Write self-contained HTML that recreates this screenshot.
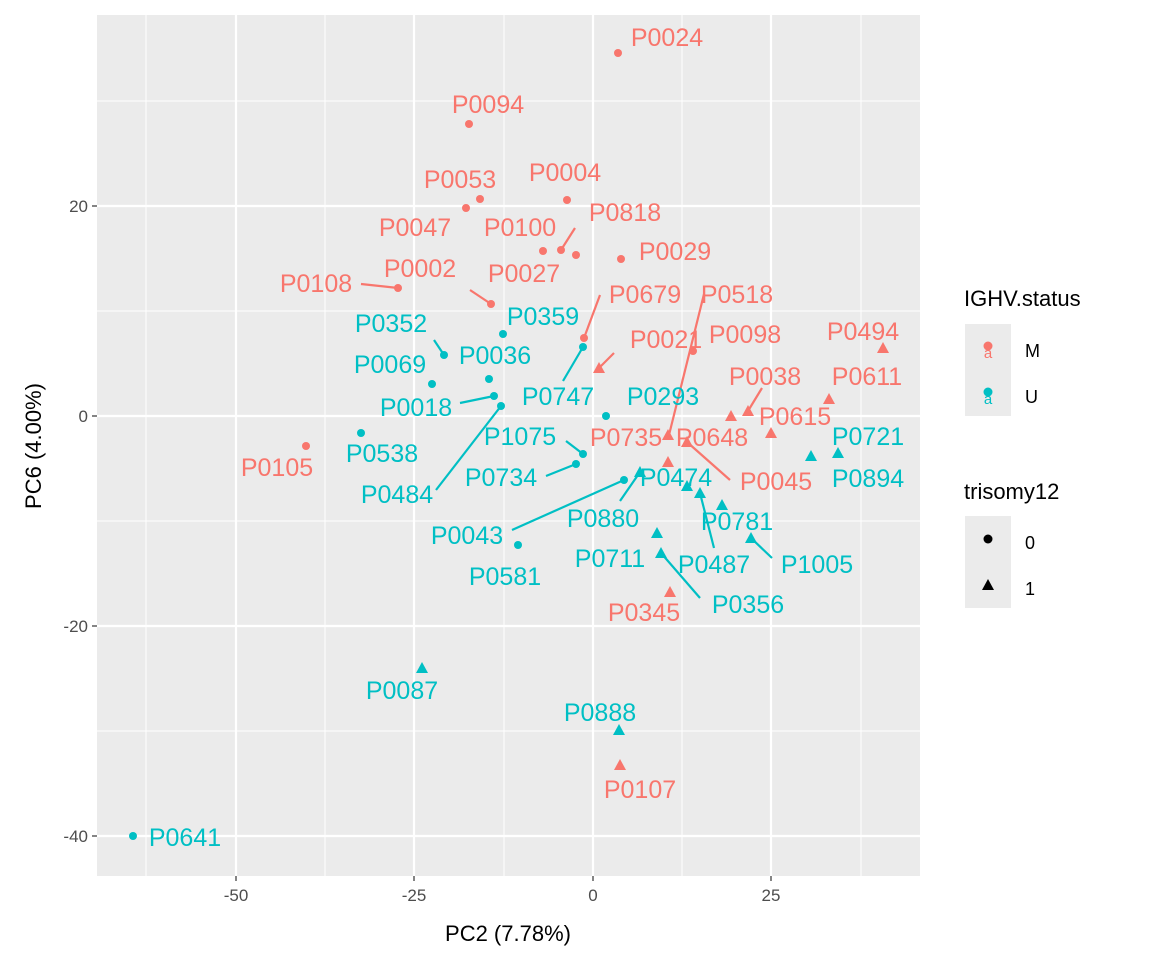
<!DOCTYPE html>
<html><head><meta charset="utf-8"><style>
body{margin:0;background:#fff}
svg{display:block;font-family:"Liberation Sans",sans-serif}
.r{fill:#F8766D}.t{fill:#00BFC4}
.lr{fill:#F8766D;font-size:25px;text-anchor:middle}
.lt{fill:#00BFC4;font-size:25px;text-anchor:middle}
.sr{stroke:#F8766D;stroke-width:2.2}.st{stroke:#00BFC4;stroke-width:2.2}
</style></head><body>
<svg width="1152" height="960" viewBox="0 0 1152 960">
<defs>
<symbol id="tri" viewBox="-6 -6 12 12" overflow="visible"><path d="M0,-6 L6,5 L-6,5Z"/></symbol>
</defs>
<rect x="97" y="15" width="823" height="861" fill="#EBEBEB"/>
<g stroke="#fff" stroke-width="1">
<line x1="146" y1="15" x2="146" y2="876"/><line x1="325" y1="15" x2="325" y2="876"/><line x1="504" y1="15" x2="504" y2="876"/><line x1="682" y1="15" x2="682" y2="876"/><line x1="861" y1="15" x2="861" y2="876"/>
<line x1="97" y1="101" x2="920" y2="101"/><line x1="97" y1="311" x2="920" y2="311"/><line x1="97" y1="521" x2="920" y2="521"/><line x1="97" y1="731" x2="920" y2="731"/>
</g>
<g stroke="#fff" stroke-width="2.2">
<line x1="236" y1="15" x2="236" y2="876"/><line x1="414" y1="15" x2="414" y2="876"/><line x1="593" y1="15" x2="593" y2="876"/><line x1="771" y1="15" x2="771" y2="876"/>
<line x1="97" y1="206" x2="920" y2="206"/><line x1="97" y1="416" x2="920" y2="416"/><line x1="97" y1="626" x2="920" y2="626"/><line x1="97" y1="836" x2="920" y2="836"/>
</g>
<g>
<line class="sr" x1="575" y1="228" x2="561" y2="250"/>
<line class="sr" x1="361" y1="284" x2="398" y2="288"/>
<line class="sr" x1="470" y1="290" x2="491" y2="304"/>
<line class="sr" x1="600" y1="295" x2="584" y2="338"/>
<line class="sr" x1="704" y1="294" x2="669" y2="435"/>
<line class="sr" x1="614" y1="353" x2="599" y2="368"/>
<line class="sr" x1="762" y1="388" x2="748" y2="411"/>
<line class="sr" x1="687" y1="442" x2="730" y2="480"/>
<line class="st" x1="563" y1="381" x2="583" y2="347"/>
<line class="st" x1="434" y1="340" x2="444" y2="355"/>
<line class="st" x1="460" y1="403" x2="494" y2="396"/>
<line class="st" x1="436" y1="490" x2="501" y2="406"/>
<line class="st" x1="566" y1="441" x2="583" y2="454"/>
<line class="st" x1="546" y1="476" x2="576" y2="464"/>
<line class="st" x1="512" y1="530" x2="624" y2="480"/>
<line class="st" x1="620" y1="501" x2="640" y2="472"/>
<line class="st" x1="714" y1="548" x2="700" y2="493"/>
<line class="st" x1="700" y1="598" x2="661" y2="553"/>
<line class="st" x1="772" y1="558" x2="751" y2="538"/>
</g>
<g class="r">
<circle cx="618" cy="53" r="4"/><circle cx="469" cy="124" r="4"/><circle cx="480" cy="199" r="4"/><circle cx="567" cy="200" r="4"/><circle cx="466" cy="208" r="4"/>
<circle cx="543" cy="251" r="4"/><circle cx="561" cy="250" r="4"/><circle cx="576" cy="255" r="4"/><circle cx="621" cy="259" r="4"/>
<circle cx="398" cy="288" r="4"/><circle cx="491" cy="304" r="4"/><circle cx="584" cy="338" r="4"/><circle cx="693" cy="351" r="4"/><circle cx="306" cy="446" r="4"/>
</g>
<g class="r">
<use href="#tri" x="593" y="362" width="12" height="12"/><use href="#tri" x="725" y="410" width="12" height="12"/><use href="#tri" x="742" y="405" width="12" height="12"/>
<use href="#tri" x="877" y="342" width="12" height="12"/><use href="#tri" x="823" y="393" width="12" height="12"/><use href="#tri" x="765" y="427" width="12" height="12"/>
<use href="#tri" x="681" y="436" width="12" height="12"/><use href="#tri" x="662" y="429" width="12" height="12"/><use href="#tri" x="662" y="456" width="12" height="12"/>
<use href="#tri" x="664" y="586" width="12" height="12"/><use href="#tri" x="614" y="759" width="12" height="12"/>
</g>
<g class="t">
<circle cx="503" cy="334" r="4"/><circle cx="444" cy="355" r="4"/><circle cx="489" cy="379" r="4"/><circle cx="432" cy="384" r="4"/><circle cx="494" cy="396" r="4"/><circle cx="501" cy="406" r="4"/>
<circle cx="583" cy="347" r="4"/><circle cx="606" cy="416" r="4"/><circle cx="361" cy="433" r="4"/><circle cx="583" cy="454" r="4"/><circle cx="576" cy="464" r="4"/><circle cx="624" cy="480" r="4"/><circle cx="518" cy="545" r="4"/><circle cx="133" cy="836" r="4"/>
</g>
<g class="t">
<use href="#tri" x="634" y="466" width="12" height="12"/><use href="#tri" x="681" y="480" width="12" height="12"/><use href="#tri" x="694" y="487" width="12" height="12"/><use href="#tri" x="716" y="499" width="12" height="12"/>
<use href="#tri" x="651" y="527" width="12" height="12"/><use href="#tri" x="655" y="547" width="12" height="12"/><use href="#tri" x="745" y="532" width="12" height="12"/>
<use href="#tri" x="805" y="450" width="12" height="12"/><use href="#tri" x="832" y="447" width="12" height="12"/><use href="#tri" x="416" y="662" width="12" height="12"/><use href="#tri" x="613" y="724" width="12" height="12"/>
</g>
<g class="lr">
<text x="667" y="46">P0024</text><text x="488" y="113">P0094</text><text x="460" y="188">P0053</text><text x="565" y="181">P0004</text>
<text x="415" y="236">P0047</text><text x="520" y="236">P0100</text><text x="625" y="221">P0818</text><text x="675" y="260">P0029</text>
<text x="316" y="292">P0108</text><text x="420" y="277">P0002</text><text x="524" y="282">P0027</text><text x="645" y="303">P0679</text>
<text x="737" y="303">P0518</text><text x="745" y="343">P0098</text><text x="666" y="348">P0021</text><text x="863" y="340">P0494</text>
<text x="765" y="385">P0038</text><text x="867" y="385">P0611</text><text x="795" y="425">P0615</text><text x="626" y="446">P0735</text>
<text x="712" y="446">P0648</text><text x="776" y="490">P0045</text><text x="277" y="476">P0105</text><text x="644" y="621">P0345</text><text x="640" y="798">P0107</text>
</g>
<g class="lt">
<text x="543" y="325">P0359</text><text x="391" y="332">P0352</text><text x="495" y="364">P0036</text><text x="390" y="373">P0069</text>
<text x="416" y="416">P0018</text><text x="558" y="405">P0747</text><text x="663" y="405">P0293</text><text x="382" y="462">P0538</text>
<text x="520" y="445">P1075</text><text x="501" y="486">P0734</text><text x="397" y="503">P0484</text><text x="676" y="486">P0474</text>
<text x="467" y="544">P0043</text><text x="603" y="527">P0880</text><text x="505" y="585">P0581</text><text x="610" y="567">P0711</text>
<text x="714" y="573">P0487</text><text x="748" y="613">P0356</text><text x="737" y="530">P0781</text><text x="817" y="573">P1005</text>
<text x="868" y="445">P0721</text><text x="868" y="487">P0894</text><text x="402" y="699">P0087</text><text x="600" y="721">P0888</text><text x="185" y="846">P0641</text>
</g>
<g stroke="#333" stroke-width="1.2">
<line x1="236" y1="876" x2="236" y2="881"/><line x1="414" y1="876" x2="414" y2="881"/><line x1="593" y1="876" x2="593" y2="881"/><line x1="771" y1="876" x2="771" y2="881"/>
<line x1="92" y1="206" x2="97" y2="206"/><line x1="92" y1="416" x2="97" y2="416"/><line x1="92" y1="626" x2="97" y2="626"/><line x1="92" y1="836" x2="97" y2="836"/>
</g>
<g fill="#4D4D4D" font-size="17">
<g text-anchor="middle"><text x="236" y="901">-50</text><text x="414" y="901">-25</text><text x="593" y="901">0</text><text x="771" y="901">25</text></g>
<g text-anchor="end"><text x="88" y="212">20</text><text x="88" y="422">0</text><text x="88" y="632">-20</text><text x="88" y="842">-40</text></g>
</g>
<text x="508" y="941" font-size="22" text-anchor="middle">PC2 (7.78%)</text>
<text transform="translate(41,446) rotate(-90)" font-size="22" text-anchor="middle">PC6 (4.00%)</text>
<text x="964" y="306" font-size="22">IGHV.status</text>
<rect x="965" y="324" width="46" height="92" fill="#EBEBEB"/>
<circle cx="988" cy="346" r="4.5" class="r"/><text x="988" y="358" font-size="15" text-anchor="middle" class="r">a</text>
<circle cx="988" cy="392" r="4.5" class="t"/><text x="988" y="404" font-size="15" text-anchor="middle" class="t">a</text>
<text x="1025" y="357" font-size="18">M</text><text x="1025" y="403" font-size="18">U</text>
<text x="964" y="499" font-size="22">trisomy12</text>
<rect x="965" y="516" width="46" height="92" fill="#EBEBEB"/>
<circle cx="988" cy="539" r="4.5"/><use href="#tri" x="982" y="579" width="12" height="12"/>
<text x="1025" y="549" font-size="18">0</text><text x="1025" y="595" font-size="18">1</text>
</svg>
</body></html>
